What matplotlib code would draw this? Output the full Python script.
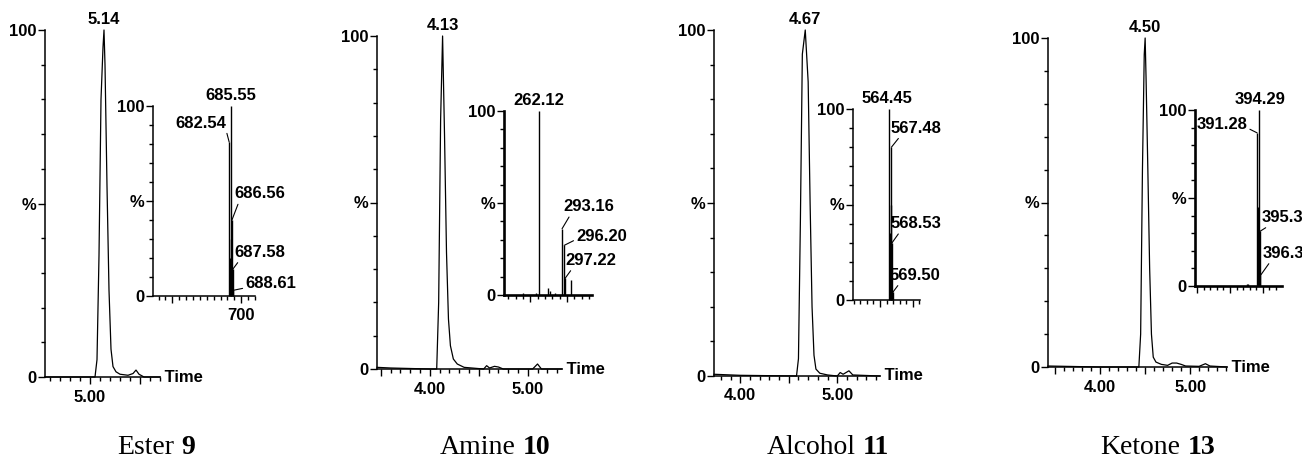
import matplotlib.pyplot as plt
from matplotlib.ticker import MultipleLocator, FixedLocator

# LC traces: retention time (min) and relative intensity (%)
ester_t = [4.55, 5.05, 5.07, 5.09, 5.11, 5.13, 5.14, 5.15, 5.17, 5.19, 5.21, 5.23, 5.26, 5.30,
           5.38, 5.43, 5.46, 5.49, 5.54, 5.70]
ester_i = [0, 0, 5, 35, 80, 95, 100, 90, 55, 25, 8, 3, 1.5, 0.8, 0.5, 1, 2, 0.8, 0, 0]

amine_t = [3.46, 3.60, 4.00, 4.07, 4.09, 4.11, 4.13, 4.15, 4.17, 4.19, 4.21, 4.24, 4.28, 4.35,
           4.55, 4.58, 4.61, 4.66, 4.70, 4.75, 5.05, 5.10, 5.14, 5.35]
amine_i = [0.5, 0.3, 0, 0, 20, 75, 100, 70, 35, 15, 7, 3, 1.5, 0.5, 0, 1, 0.3, 0.8, 0.6, 0, 0, 1.5, 0, 0]

alcohol_t = [3.73, 4.00, 4.58, 4.60, 4.62, 4.64, 4.67, 4.70, 4.72, 4.74, 4.76, 4.78, 4.82, 4.90,
             5.00, 5.03, 5.06, 5.09, 5.12, 5.16, 5.44]
alcohol_i = [0.5, 0.2, 0, 5, 45, 93, 100, 85, 50, 20, 6, 2, 0.8, 0.3, 0, 1, 0.5, 1, 1.5, 0.3, 0]

ketone_t = [3.42, 4.00, 4.43, 4.45, 4.47, 4.49, 4.50, 4.51, 4.53, 4.55, 4.57, 4.59, 4.62, 4.68,
            4.75, 4.80, 4.85, 4.90, 4.95, 5.10, 5.17, 5.22, 5.41]
ketone_i = [0.3, 0, 0, 10, 60, 95, 100, 88, 60, 30, 10, 3, 1.5, 0.8, 0.5, 1.2, 1.2, 0.8, 0.3, 0.2,
            1, 0.3, 0]

apex_labels = ['5.14', '4.13', '4.67', '4.50']
apex_times = [5.14, 4.13, 4.67, 4.50]

# mass spectra: m/z and relative intensity (%)
ester_mz = [682.54, 683.5, 684.5, 685.55, 686.56, 687.58, 688.61]
ester_ms = [81, 20, 30, 100, 40, 14, 3]
amine_mz = [240, 258, 262.12, 274, 277, 284, 293.16, 296.20, 297.22, 306]
amine_ms = [1, 1, 100, 4, 2, 1, 36, 27, 9, 8]
alcohol_mz = [564.45, 565.5, 566.5, 567.48, 568.53, 569.50]
alcohol_ms = [100, 35, 50, 80, 30, 4]
ketone_mz = [376, 378, 391.28, 392.3, 393.3, 394.29, 395.3, 396.3]
ketone_ms = [1, 1, 87, 30, 45, 100, 31, 6]

# labelled m/z peaks
ester_lab = ['685.55', '682.54', '686.56', '687.58', '688.61']
amine_lab = ['262.12', '293.16', '296.20', '297.22']
alcohol_lab = ['564.45', '567.48', '568.53', '569.50']
ketone_lab = ['394.29', '391.28', '395.3', '396.3']

ms_xlims = [(572, 720), (214, 334), (509, 611), (297, 429)]
ms_major = [100, 50, 50, 50]
ms_ticklabels = [{700: '700'}, {}, {}, {}]

caption_names = ['Ester', 'Amine', 'Alcohol', 'Ketone']
caption_nums = ['9', '10', '11', '13']

W, H = 1302, 466
fig = plt.figure(figsize=(W / 100, H / 100), dpi=100)
plt.rcParams['font.family'] = ['Liberation Sans', 'DejaVu Sans']
plt.rcParams['font.weight'] = 'bold'
FS = 12


def px_axes(x0, x1, ytop, yzero):
    return fig.add_axes([x0 / W, 1 - yzero / H, (x1 - x0) / W, (yzero - ytop) / H])


def style(ax, lw=1.1):
    for s in ('top', 'right'):
        ax.spines[s].set_visible(False)
    for s in ('left', 'bottom'):
        ax.spines[s].set_linewidth(lw)
    ax.set_ylim(0, 100)
    ax.yaxis.set_major_locator(FixedLocator([0, 50, 100]))
    ax.set_yticklabels(['0', '%', '100'], fontweight='bold')
    ax.yaxis.set_minor_locator(MultipleLocator(10))
    ax.tick_params(which='major', length=5, width=1, labelsize=FS, pad=1)
    ax.tick_params(axis='x', which='major', pad=4)
    ax.tick_params(which='minor', length=3, width=1)
    ax.patch.set_visible(False)


# pixel boxes (left, right, top, zero line)
main_boxes = [(45, 160, 30, 377), (377, 562, 36, 369), (714, 880, 30, 376), (1048, 1227, 38, 367)]
inset_boxes = [(153, 255, 106, 296), (504, 592, 111, 295), (853, 920, 109, 300), (1195, 1282, 110, 286)]
inset_lw = [1.1, 1.9, 1.1, 1.9]

traces = [(ester_t, ester_i), (amine_t, amine_i), (alcohol_t, alcohol_i), (ketone_t, ketone_i)]
spectra = [(ester_mz, ester_ms, ester_lab), (amine_mz, amine_ms, amine_lab),
           (alcohol_mz, alcohol_ms, alcohol_lab), (ketone_mz, ketone_ms, ketone_lab)]

# label offsets in pixels: (dx, dy, ha, relpos)
label_pos = [
    [(0, 3, 'center', None), (-3, 19, 'right', (1, 0)), (2, 26, 'left', (0.1, 0)),
     (2, 17, 'left', (0.1, 0)), (12, 7, 'left', (0, 0.2))],
    [(0, 3, 'center', None), (1, 22, 'left', (0.15, 0)), (12, 9, 'left', (0, 0.3)),
     (0, 18, 'left', (0.15, 0))],
    [(-2, 3, 'center', None), (-1, 19, 'left', (0.2, 0)), (-2, 19, 'left', (0.2, 0)),
     (-3, 17, 'left', (0.2, 0))],
    [(1, 3, 'center', None), (-10, 8, 'right', (1, 0.3)), (2, 14, 'left', (0.2, 0)),
     (2, 22, 'left', (0.2, 0))],
]

for k in range(4):
    t, inten = traces[k]
    ax = px_axes(*main_boxes[k])
    style(ax)
    ax.plot(t, inten, color='black', lw=0.9, clip_on=False)
    ax.set_xlim(t[0], t[-1])
    ax.xaxis.set_major_locator(MultipleLocator(0.5))
    ax.xaxis.set_minor_locator(MultipleLocator(0.1))
    ax.xaxis.set_major_formatter(lambda v, p: f'{v:.2f}' if abs(v - round(v)) < 1e-6 else '')
    ax.text(1.0, 0, ' Time', transform=ax.transAxes, ha='left', va='center', fontsize=FS)
    ax.annotate(apex_labels[k], xy=(apex_times[k], 100), xytext=(0, 3), textcoords='offset pixels',
                ha='center', va='bottom', fontsize=FS)

    mz, ms, labs = spectra[k]
    ins = px_axes(*inset_boxes[k])
    style(ins, inset_lw[k])
    ins.vlines(mz, 0, ms, color='black', lw=1.0, clip_on=False)
    ins.set_xlim(*ms_xlims[k])
    ins.xaxis.set_major_locator(MultipleLocator(ms_major[k]))
    ins.xaxis.set_minor_locator(MultipleLocator(10))
    tl = ms_ticklabels[k]
    ins.xaxis.set_major_formatter(lambda v, p, tl=tl: tl.get(int(round(v)), ''))
    for lab, (dx, dy, ha, rel) in zip(labs, label_pos[k]):
        i = mz.index(float(lab))
        if rel is None:
            ins.annotate(lab, xy=(mz[i], ms[i]), xytext=(dx, dy), textcoords='offset pixels',
                         ha=ha, va='bottom', fontsize=FS)
        else:
            ins.annotate(lab, xy=(mz[i], ms[i]), xytext=(dx, dy), textcoords='offset pixels',
                         ha=ha, va='center', fontsize=FS,
                         arrowprops=dict(arrowstyle='-', lw=0.8, color='black', relpos=rel,
                                         shrinkA=0, shrinkB=0))

# captions: regular name + bold compound number, centred under each panel
caption_x = [156, 495, 828, 1158]
r = fig.canvas.get_renderer()
yb = (H - 454) / H
for name, num, cx in zip(caption_names, caption_nums, caption_x):
    t1 = fig.text(0, yb, name, family='Liberation Serif', weight='normal', size=20, va='baseline')
    t2 = fig.text(0, yb, num, family='Liberation Serif', weight='bold', size=20, va='baseline')
    w1 = t1.get_window_extent(r).width
    w2 = t2.get_window_extent(r).width
    gap = 7
    left = cx - (w1 + gap + w2) / 2
    t1.set_x(left / W)
    t2.set_x((left + w1 + gap) / W)

fig.savefig('out.png', dpi=100)
